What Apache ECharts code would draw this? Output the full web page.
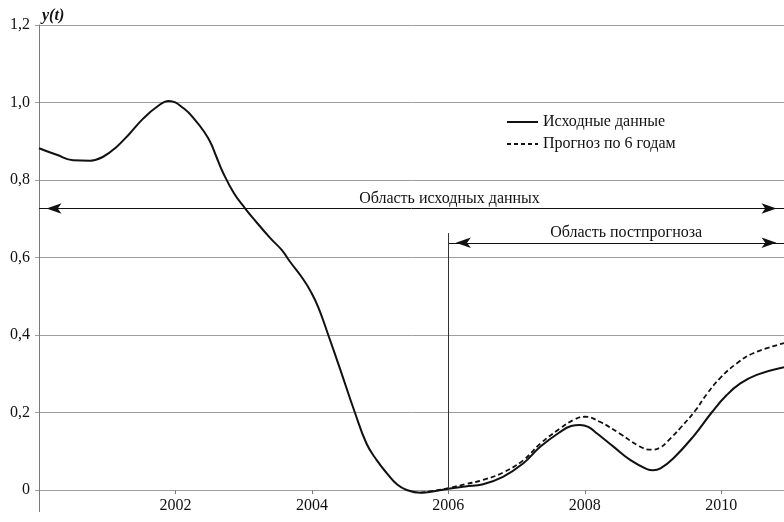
<!DOCTYPE html>
<html>
<head>
<meta charset="utf-8">
<script src="https://cdn.jsdelivr.net/npm/echarts@6/dist/echarts.min.js"></script>
<style>
  html, body { margin: 0; padding: 0; background: #fff; }
  #chart { width: 784px; height: 522px; }
</style>
</head>
<body>
<div id="chart"></div>
<script>
// Observed series y(t)
const sourceYears = [
  2000.00, 2000.26, 2000.50, 2000.75, 2000.94, 2001.14, 2001.33, 2001.53, 2001.73, 2001.90,
  2002.12, 2002.31, 2002.41, 2002.51, 2002.60, 2002.70, 2002.86, 2003.02, 2003.14, 2003.39,
  2003.56, 2003.68, 2003.88, 2003.99, 2004.10, 2004.24, 2004.41, 2004.63, 2004.80, 2004.95,
  2005.10, 2005.25, 2005.39, 2005.59, 2005.83, 2006.00, 2006.25, 2006.51, 2006.80, 2007.10,
  2007.35, 2007.64, 2007.80, 2007.93, 2008.05, 2008.18, 2008.42, 2008.67, 2008.91, 2009.00,
  2009.11, 2009.30, 2009.59, 2009.86, 2010.08, 2010.28, 2010.52, 2010.92
];
const sourceValues = [
  0.882, 0.865, 0.851, 0.850, 0.860, 0.886, 0.920, 0.959, 0.989, 1.004,
  0.985, 0.950, 0.927, 0.898, 0.860, 0.818, 0.765, 0.727, 0.701, 0.650,
  0.619, 0.589, 0.542, 0.510, 0.469, 0.400, 0.314, 0.200, 0.120, 0.077,
  0.043, 0.014, 0.000, -0.007, -0.002, 0.003, 0.009, 0.015, 0.034, 0.069,
  0.112, 0.150, 0.165, 0.168, 0.163, 0.146, 0.112, 0.077, 0.054, 0.051,
  0.056, 0.082, 0.138, 0.200, 0.245, 0.275, 0.297, 0.317
];

// Forecast built on six years of data
const forecastYears = [
  2005.59, 2005.83, 2006.00, 2006.25, 2006.51, 2006.80, 2007.10, 2007.35, 2007.64, 2007.85,
  2008.00, 2008.22, 2008.51, 2008.80, 2008.97, 2009.10, 2009.22, 2009.40, 2009.62, 2009.79,
  2009.99, 2010.23, 2010.47, 2010.92
];
const forecastValues = [
  -0.007, -0.001, 0.005, 0.015, 0.026, 0.045, 0.077, 0.120, 0.159, 0.182,
  0.189, 0.176, 0.146, 0.113, 0.104, 0.109, 0.127, 0.160, 0.205, 0.248,
  0.290, 0.327, 0.353, 0.379
];

const seriesNames = ['Исходные данные', 'Прогноз по 6 годам'];
const regionLabels = ['Область исходных данных', 'Область постпрогноза'];
const xTicks = [2000, 2002, 2004, 2006, 2008, 2010];
const xLabels = [2002, 2004, 2006, 2008, 2010];
const xRange = [2000, 2010.92];
const yRange = [0, 1.2];
const yStep = 0.2;

// Region markers
const splitYear = 2006;
const splitTop = 0.663;
const sourceArrowLevel = 0.7265;
const postArrowLevel = 0.638;

const FONT = '"Liberation Serif", "Times New Roman", serif';
const INK = '#111';
const GRID = '#9e9e9e';
const AXIS = '#7a7a7a';

// legend samples: a solid stroke and a dashed stroke, 31 x 2
const SOLID_ICON = 'path://M0,0H31V2H0Z';
const DASH_ICON = 'path://M0,0H4V2H0Z M7,0H11V2H7Z M14,0H18V2H14Z M21,0H25V2H21Z M28,0H31V2H28Z';

const zip = (xs, ys) => xs.map((x, i) => [x, ys[i]]);

const chart = echarts.init(document.getElementById('chart'), null, { renderer: 'canvas' });

chart.setOption({
  animation: false,
  backgroundColor: '#fff',
  textStyle: { fontFamily: FONT, color: INK },
  grid: { left: 39, right: 0, top: 25, bottom: 32, containLabel: false, outerBoundsMode: 'none' },
  legend: {
    orient: 'vertical',
    left: 502,
    top: 108,
    itemWidth: 31,
    itemHeight: 2,
    itemGap: 4,
    selectedMode: false,
    data: [
      { name: seriesNames[0], icon: SOLID_ICON },
      { name: seriesNames[1], icon: DASH_ICON }
    ],
    itemStyle: { color: INK, borderWidth: 0 },
    textStyle: { fontFamily: FONT, fontSize: 16, color: INK, lineHeight: 18 }
  },
  xAxis: {
    type: 'value',
    min: xRange[0],
    max: xRange[1],
    axisLine: { show: true, onZero: false, lineStyle: { color: GRID, width: 1 } },
    axisTick: { show: true, length: 4, customValues: xTicks, lineStyle: { color: AXIS } },
    axisLabel: {
      customValues: xLabels,
      margin: 8,
      fontFamily: FONT,
      fontSize: 16,
      color: INK,
      formatter: v => String(Math.round(v))
    },
    splitLine: { show: false }
  },
  yAxis: {
    type: 'value',
    min: yRange[0],
    max: yRange[1],
    interval: yStep,
    name: 'y(t)',
    nameLocation: 'end',
    nameGap: 1,
    nameTextStyle: {
      fontFamily: FONT, fontSize: 16, fontStyle: 'italic', fontWeight: 'bold',
      color: INK, align: 'left', padding: [0, 0, 0, 3]
    },
    axisLine: { show: true, lineStyle: { color: AXIS, width: 1 } },
    axisTick: { show: true, length: 4, lineStyle: { color: GRID } },
    axisLabel: {
      margin: 9,
      fontFamily: FONT,
      fontSize: 16,
      color: INK,
      formatter: v => (Math.abs(v) < 1e-9 ? '0' : v.toFixed(1).replace('.', ','))
    },
    splitLine: { show: true, lineStyle: { color: GRID, width: 1 } }
  },
  series: [
    {
      name: seriesNames[1],
      type: 'line',
      data: zip(forecastYears, forecastValues),
      smooth: 0.45,
      symbol: 'none',
      clip: false,
      z: 3,
      lineStyle: { color: INK, width: 1.8, type: [5, 3] },
      itemStyle: { color: INK }
    },
    {
      name: seriesNames[0],
      type: 'line',
      data: zip(sourceYears, sourceValues),
      smooth: 0.45,
      symbol: 'none',
      clip: false,
      z: 4,
      lineStyle: { color: INK, width: 2 },
      itemStyle: { color: INK }
    },
    {
      // region arrows and the start of the post-forecast period
      name: 'regions',
      type: 'line',
      data: [],
      silent: true,
      z: 5,
      markLine: {
        silent: true,
        symbol: ['arrow', 'arrow'],
        symbolSize: [8, 15],
        symbolOffset: [[0, 7.5], [0, 7.5]],
        emphasis: { disabled: true },
        lineStyle: { color: INK, width: 1, type: 'solid' },
        label: {
          show: true,
          position: 'middle',
          formatter: '{b}',
          fontFamily: FONT,
          fontSize: 16,
          color: INK,
          distance: 2
        },
        data: [
          [
            { name: regionLabels[0], coord: [xRange[0], sourceArrowLevel],
              label: { padding: [0, 0, 0, 76] } },
            { coord: [xRange[1], sourceArrowLevel] }
          ],
          [
            { name: regionLabels[1], coord: [splitYear, postArrowLevel],
              label: { padding: [0, 0, 0, 20] } },
            { coord: [xRange[1], postArrowLevel] }
          ],
          [
            { name: '', coord: [splitYear, 0], symbol: 'none',
              label: { show: false }, lineStyle: { color: '#333', width: 1 } },
            { coord: [splitYear, splitTop], symbol: 'none' }
          ]
        ]
      }
    }
  ]
});

// the vertical axis line continues a little below the zero level
const origin = chart.convertToPixel({ gridIndex: 0 }, [xRange[0], 0]);
const axisX = Math.round(origin[0]) + 0.5;
chart.setOption({
  graphic: [{
    type: 'line',
    silent: true,
    z: 10,
    shape: { x1: axisX, y1: origin[1], x2: axisX, y2: origin[1] + 22 },
    style: { stroke: AXIS, lineWidth: 1 }
  }]
});
</script>
</body>
</html>
